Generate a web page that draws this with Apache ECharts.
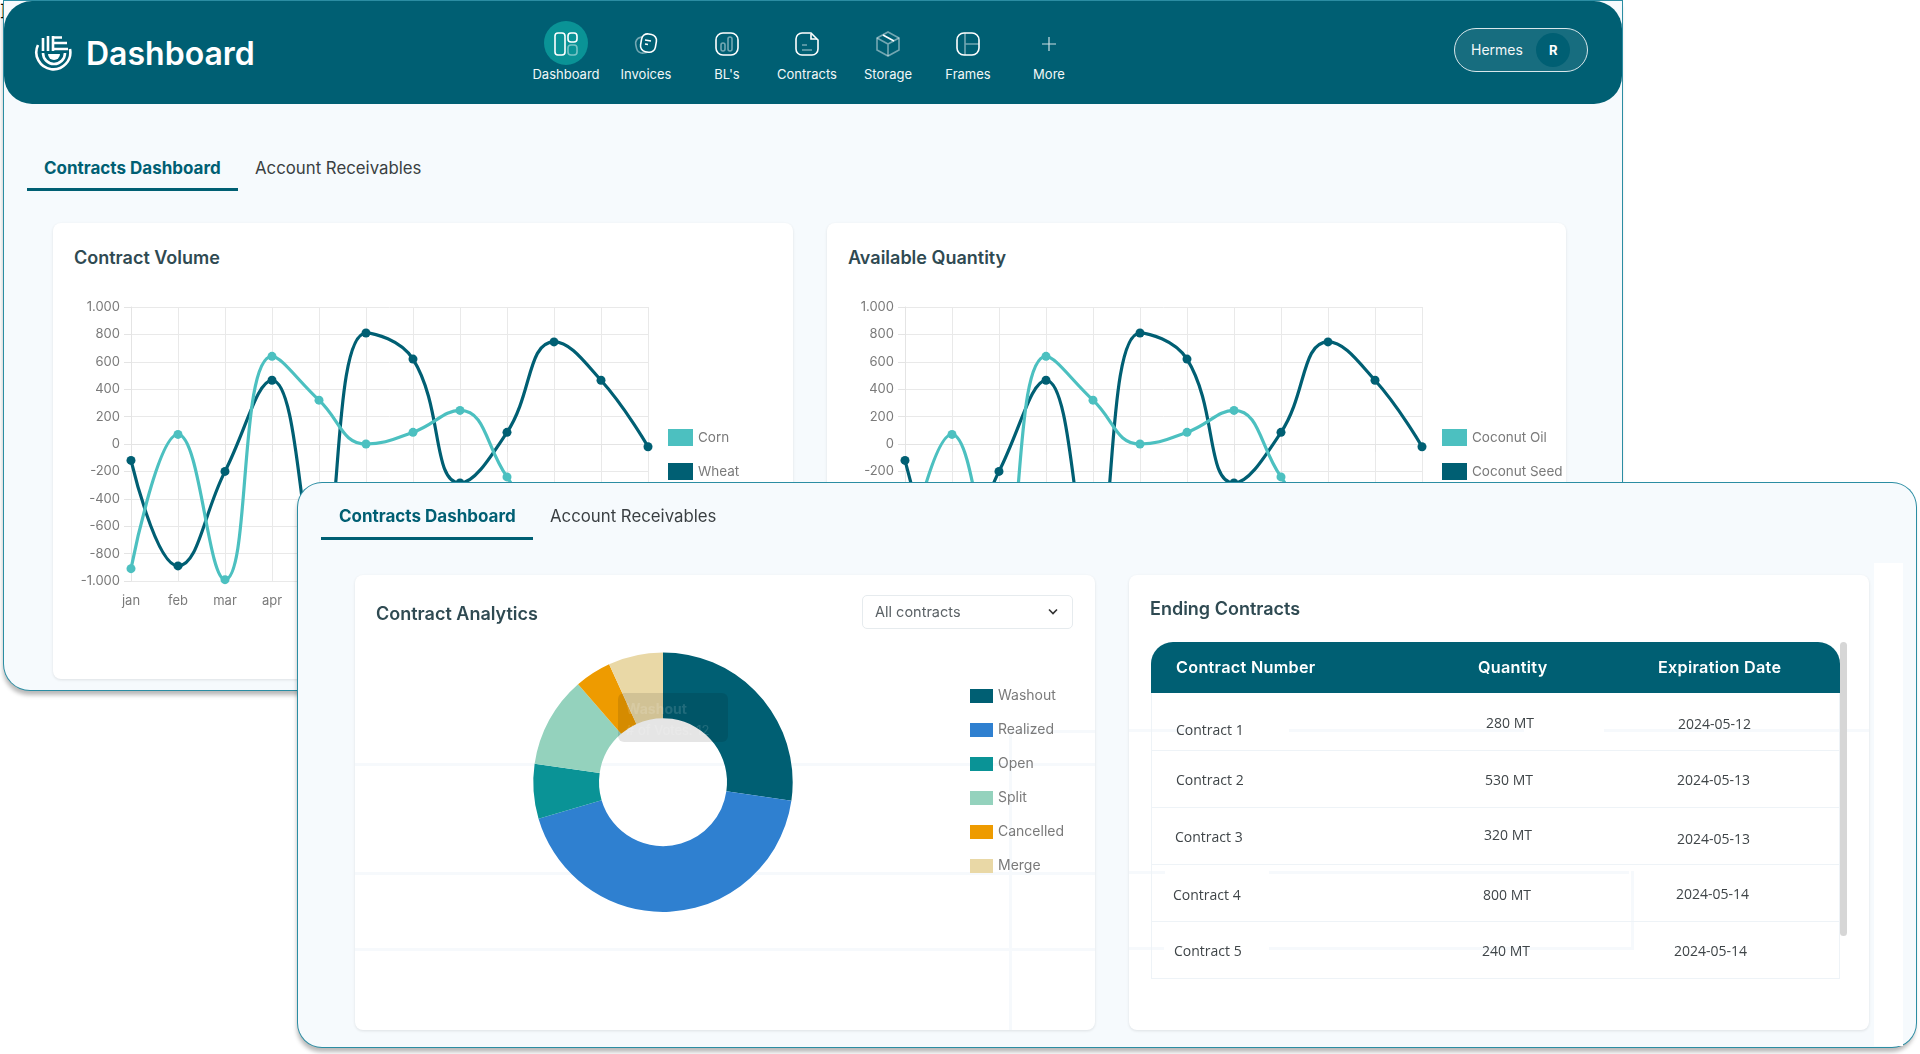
<![CDATA[<!DOCTYPE html>
<html>
<head>
<meta charset="utf-8">
<title>Dashboard</title>
<script src="https://cdn.jsdelivr.net/npm/echarts@6/dist/echarts.min.js"></script>
<style>
html, body { margin: 0; padding: 0; background: #fff; width: 1920px; height: 1054px; overflow: hidden; font-family: Inter, sans-serif; }
div, span { position: absolute; box-sizing: border-box; }
.t { white-space: nowrap; transform: translateY(-50%); }
.panel { background: #f6fafd; box-shadow: 0 0 0 1px #2b8da3, -1px 5px 4px rgba(0,0,0,.28); }
.card { background: #fff; border-radius: 8px; box-shadow: 0 1px 3px rgba(0,0,0,.1); }
.tab-on { color: #005f73; font-weight: 700; font-size: 17px; }
.tab-off { color: #3a3f42; font-size: 16.8px; }
.title { color: #2f4a52; font-weight: 600; font-size: 18px; }
.bar { background: #005f73; height: 3px; }
.ghost { background: #f6f9fc; }
.nav { color: #f2f7f8; font-size: 13px; transform: translate(-50%, -50%); white-space: nowrap; }
.ico { width: 32px; height: 32px; margin-left: -16px; }
.cell { color: #3f4548; font-size: 14px; font-family: "Open Sans", sans-serif; }
.th { color: #fff; font-weight: 600; font-size: 16.2px; letter-spacing: .3px; }
.rule { height: 1px; background: #eef3f7; }
</style>
</head>
<body>
<div id="page"></div>
<script>
var months = ['jan', 'feb', 'mar', 'apr', 'may', 'jun', 'jul', 'aug', 'sep', 'oct', 'nov', 'dec'];
var firstValues = [-910, 70, -990, 640, 320, 0, 85, 245, -240, -720, -560, -480];
var secondValues = [-120, -890, -200, 465, -880, 810, 620, -285, 85, 745, 465, -20];
var volumeNames = ['Corn', 'Wheat'];
var quantityNames = ['Coconut Oil', 'Coconut Seed'];

var statusNames = ['Washout', 'Realized', 'Open', 'Split', 'Cancelled', 'Merge'];
var statusVotes = [12, 19, 3, 5, 2, 3];
var statusColors = ['#005f73', '#2f80d0', '#0a9396', '#94d2bd', '#ee9b00', '#e9d8a6'];

var navItems = ['Dashboard', 'Invoices', "BL's", 'Contracts', 'Storage', 'Frames', 'More'];
var navCenters = [566, 646, 727, 807, 888, 968, 1049];
var tableHead = ['Contract Number', 'Quantity', 'Expiration Date'];
var contracts = ['Contract 1', 'Contract 2', 'Contract 3', 'Contract 4', 'Contract 5'];
var quantities = ['280 MT', '530 MT', '320 MT', '800 MT', '240 MT'];
var expiries = ['2024-05-12', '2024-05-13', '2024-05-13', '2024-05-14', '2024-05-14'];

var page = document.getElementById('page');

function box(cls, x, y, w, h, css, parent) {
    var el = document.createElement('div');
    el.className = cls;
    el.style.cssText = 'left:' + x + 'px;top:' + y + 'px;width:' + w + 'px;height:' + h + 'px;' + (css || '');
    (parent || page).appendChild(el);
    return el;
}

function text(cls, str, x, y, css, parent) {
    var el = document.createElement('span');
    el.className = cls;
    el.textContent = str;
    el.style.cssText = 'left:' + x + 'px;top:' + y + 'px;' + (css || '');
    (parent || page).appendChild(el);
    return el;
}

var S = 'fill="none" stroke="#fff" stroke-width="1.6"';
var F = 'fill="none" stroke="#fff" stroke-opacity=".45" stroke-width="1.6"';
var navIcons = [
    '<rect x="5" y="5" width="10" height="22" rx="3" ' + S + '/><rect x="18" y="5" width="9" height="9" rx="3" ' + S + '/><rect x="18" y="17" width="9" height="10" rx="3" ' + F + '/>',
    '<rect x="6" y="9" width="15" height="16" rx="6" transform="rotate(-12 13 17)" ' + F + '/><rect x="11" y="6" width="15" height="18" rx="6" transform="rotate(10 18 15)" fill="#005f73" stroke="#fff" stroke-width="1.6"/><path d="M15 12l6 1M15 16l3 .5" ' + S + '/>',
    '<rect x="5" y="5" width="22" height="22" rx="7" ' + S + '/><rect x="10" y="15" width="4" height="8" rx="2" ' + F + '/><rect x="17" y="9" width="4" height="14" rx="2" ' + F + '/>',
    '<path d="M11 5h9l7 7v9a6 6 0 0 1-6 6H11a6 6 0 0 1-6-6V11a6 6 0 0 1 6-6z" ' + S + '/><path d="M20 6v5h6" ' + S + '/><path d="M11 17h5M11 22h10" ' + F + '/>',
    '<path d="M16 4l11 6v12l-11 6-11-6V10z" ' + F + '/><path d="M5 10l11 6 11-6M16 16v12" ' + F + '/><path d="M11 7l11 6" ' + S + '/>',
    '<rect x="5" y="5" width="22" height="22" rx="7" ' + S + '/><path d="M13 5v22M13 16h14" ' + F + '/>',
    '<path d="M16 9v14M9 16h14" fill="none" stroke="#fff" stroke-opacity=".8" stroke-width="1.2"/>'
];

// back panel
var back = box('panel', 4, 1, 1618, 689, 'border-radius:0 0 26px 26px;z-index:1;');
box('', 0, 0, 1618, 103, 'background:#005f73;border-radius:28px;', back);
box('', 29, 32, 40, 40, '', back).innerHTML = '<svg width="40" height="40" viewBox="0 0 40 40" style="position:absolute;left:0;top:0">' +
    '<path d="M5 12A17 17 0 1 0 37 16" fill="none" stroke="#fff" stroke-width="2.6"/>' +
    '<path d="M10 20a11 11 0 0 0 22 0" fill="none" stroke="#fff" stroke-width="2.6"/>' +
    '<path d="M15 21h12a6 6 0 0 1-12 0z" fill="#fff"/>' +
    '<path d="M10 5v13M15 3v15M20 3v15M20 4.5h9M20 10h14M20 16h15" fill="none" stroke="#fff" stroke-width="2.6"/></svg>';
text('t', 'Dashboard', 82, 52, 'color:#fff;font-size:32px;font-weight:600;', back);

box('', 540, 20, 44, 44, 'background:#0a9396;border-radius:50%;', back);
navItems.forEach(function (name, i) {
    var x = navCenters[i] - 4;
    box('ico', x, 27, 32, 32, '', back).innerHTML = '<svg width="32" height="32" viewBox="0 0 32 32" style="position:absolute;left:0;top:0">' + navIcons[i] + '</svg>';
    text('nav', name, x, 73, '', back);
});

box('', 1450, 27, 134, 44, 'background:rgba(255,255,255,.09);border:1px solid #d7e6ea;border-radius:22px;', back);
text('t', 'Hermes', 1467, 48, 'color:#f2f7f8;font-size:14px;', back);
box('', 1532, 32, 34, 34, 'background:#005f73;border-radius:50%;', back);
text('t', 'R', 1545, 49, 'color:#fff;font-size:13px;font-weight:700;', back);

text('t tab-on', 'Contracts Dashboard', 40, 167, '', back);
text('t tab-off', 'Account Receivables', 251, 167, '', back);
box('bar', 23, 187, 211, 3, '', back);

var volumeCard = box('card', 49, 222, 740, 456, '', back);
var quantityCard = box('card', 823, 222, 739, 456, '', back);
text('t title', 'Contract Volume', 21, 34, '', volumeCard);
text('t title', 'Available Quantity', 21, 34, '', quantityCard);

// front panel
var front = box('panel', 298, 483, 1618, 564, 'border-radius:24px;z-index:2;');
box('', 1576, 80, 29, 483, 'background:#fff;', front);
text('t tab-on', 'Contracts Dashboard', 41, 33, '', front);
text('t tab-off', 'Account Receivables', 252, 33, '', front);
box('bar', 23, 54, 212, 3, '', front);

var analyticsCard = box('card', 57, 92, 740, 455, '', front);
var endingCard = box('card', 831, 92, 740, 455, '', front);

// leftovers of the screen underneath, they show through the cards
[[0, 188, 740, 3], [0, 297, 740, 3], [0, 373, 740, 3], [654, 155, 86, 3], [654, 155, 3, 300]].forEach(function (g) {
    box('ghost', g[0], g[1], g[2], g[3], '', analyticsCard);
});
[[0, 154, 64, 3], [160, 154, 235, 3], [475, 154, 265, 3], [0, 296, 36, 3], [140, 296, 360, 3], [502, 296, 3, 76], [0, 372, 35, 3], [140, 372, 365, 3]].forEach(function (g) {
    box('ghost', g[0], g[1], g[2], g[3], '', endingCard);
});

text('t title', 'Contract Analytics', 21, 38, '', analyticsCard);
box('', 507, 20, 211, 34, 'background:#fff;border:1px solid #e6ebee;border-radius:5px;', analyticsCard);
text('t', 'All contracts', 520, 36, 'color:#5b6266;font-size:14.5px;', analyticsCard);
box('', 691, 31, 14, 12, '', analyticsCard).innerHTML = '<svg width="14" height="12" viewBox="0 0 14 12" style="position:absolute;left:0;top:0"><path d="M3 3.5l4 4 4-4" fill="none" stroke="#333" stroke-width="1.6"/></svg>';

text('t title', 'Ending Contracts', 21, 33, '', endingCard);

var pieEl = box('', 0, 0, 740, 455, '', analyticsCard);

// table
box('', 853, 159, 689, 51, 'background:#005f73;border-radius:22px 22px 0 0;', front);
[[1176, 0], [1478, 1], [1658, 2]].forEach(function (h) {
    text('t th', tableHead[h[1]], h[0] - 298, 667 - 483, '', front);
});
box('', 853, 210, 1, 285, 'background:#eef3f7;', front);
box('', 1541, 210, 1, 285, 'background:#eef3f7;', front);
box('', 1542, 159, 7, 294, 'background:#d6d6d6;border-radius:4px;', front);
[749, 806, 863, 920, 977].forEach(function (y) {
    box('rule', 853, y - 482, 689, 1, '', front);
});
var nameCells = [[1176, 729], [1176, 779], [1175, 836], [1173, 894], [1174, 950]];
var qtyCells = [[1486, 722], [1485, 779], [1484, 834], [1483, 894], [1482, 950]];
var dateCells = [[1678, 723], [1677, 779], [1677, 838], [1676, 893], [1674, 950]];
contracts.forEach(function (c, i) {
    text('t cell', c, nameCells[i][0] - 298, nameCells[i][1] - 483, '', front);
    text('t cell', quantities[i], qtyCells[i][0] - 298, qtyCells[i][1] - 483, '', front);
    text('t cell', expiries[i], dateCells[i][0] - 298, dateCells[i][1] - 483, '', front);
});

function lineOption(names, legendLeft, gridLeft) {
    function series(name, values, color, z) {
        return {
            name: name,
            type: 'line',
            z: z,
            smooth: 0.45,
            data: values,
            symbol: 'circle',
            symbolSize: 9,
            lineStyle: { color: color, width: 3.2 },
            itemStyle: { color: color }
        };
    }
    return {
        animation: false,
        textStyle: { fontFamily: 'Inter, sans-serif' },
        grid: { left: gridLeft, top: 84, width: 517, height: 274 },
        legend: {
            orient: 'vertical',
            left: legendLeft,
            top: 206,
            padding: 0,
            icon: 'rect',
            itemWidth: 25,
            itemHeight: 17,
            itemGap: 17,
            textStyle: { color: '#7a7a7a', fontSize: 13.5, fontFamily: 'Inter, sans-serif' },
            data: names
        },
        xAxis: {
            type: 'category',
            boundaryGap: false,
            data: months,
            axisLine: { lineStyle: { color: '#e4e4e4' } },
            axisTick: { length: 8, lineStyle: { color: '#e4e4e4' } },
            axisLabel: { color: '#7a7a7a', fontSize: 13, margin: 14 },
            splitLine: { show: true, lineStyle: { color: '#e9e9e9' } }
        },
        yAxis: {
            type: 'value',
            min: -1000,
            max: 1000,
            interval: 200,
            axisLine: { show: true, lineStyle: { color: '#e4e4e4' } },
            axisTick: { show: true, length: 7, lineStyle: { color: '#e4e4e4' } },
            axisLabel: {
                color: '#7a7a7a',
                fontSize: 13,
                margin: 11,
                formatter: function (val) {
                    return Math.abs(val) === 1000 ? (val < 0 ? '-1.000' : '1.000') : String(val);
                }
            },
            splitLine: { lineStyle: { color: '#e9e9e9' } }
        },
        series: [
            series(names[0], firstValues, '#4cc0c0', 3),
            series(names[1], secondValues, '#005f73', 2)
        ]
    };
}

function chartEl(parent) {
    return box('', 0, 0, 740, 456, '', parent);
}

echarts.init(chartEl(volumeCard)).setOption(lineOption(volumeNames, 615, 78));
echarts.init(chartEl(quantityCard)).setOption(lineOption(quantityNames, 615, 78));

var pieChart = echarts.init(pieEl);
pieChart.setOption({
    animation: false,
    textStyle: { fontFamily: 'Inter, sans-serif' },
    color: statusColors,
    tooltip: {
        trigger: 'item',
        alwaysShowContent: true,
        transitionDuration: 0,
        padding: 0,
        borderWidth: 0,
        backgroundColor: 'rgba(0,0,0,.1)',
        extraCssText: 'box-shadow:none;border-radius:6px;',
        position: function () { return [263, 118]; },
        formatter: function (p) {
            return '<div style="position:relative;width:110px;height:49px;font-size:14px;color:rgba(255,255,255,.13)">' +
                '<b style="position:absolute;left:8px;top:5px">' + p.name + '</b>' +
                '<span style="position:absolute;left:8px;top:27px;font-size:13px;white-space:nowrap">' + p.seriesName + ': ' + p.value + '</span></div>';
        }
    },
    legend: {
        orient: 'vertical',
        left: 615,
        top: 114,
        padding: 0,
        icon: 'rect',
        itemWidth: 23,
        itemHeight: 14,
        itemGap: 20,
        textStyle: { color: '#7a7a7a', fontSize: 14 },
        data: statusNames
    },
    series: [{
        name: '# of Votes',
        type: 'pie',
        center: [308, 207.2],
        radius: [64, 129.7],
        startAngle: 90,
        label: { show: false },
        labelLine: { show: false },
        data: statusNames.map(function (name, i) {
            return { name: name, value: statusVotes[i] };
        })
    }]
});
pieChart.dispatchAction({ type: 'showTip', seriesIndex: 0, dataIndex: 0 });
</script>
</body>
</html>
]]>
